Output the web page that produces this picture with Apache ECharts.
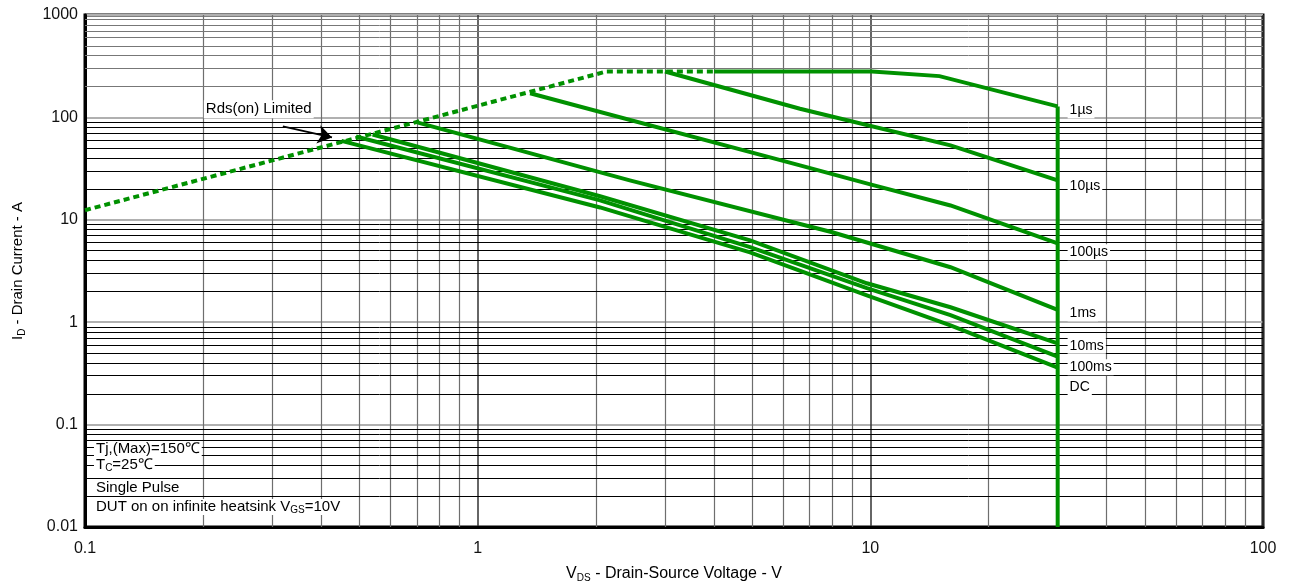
<!DOCTYPE html>
<html>
<head>
<meta charset="utf-8">
<script src="https://cdn.jsdelivr.net/npm/echarts@6/dist/echarts.min.js"></script>
<style>
  html, body { margin: 0; padding: 0; background: #fff; }
  #main { width: 1290px; height: 587px; }
</style>
</head>
<body>
<div id="main"></div>
<script>
// safe operating area, VDS (V) vs ID (A)
const rdsV = [0.1, 2.13, 4.0]
const rdsI = [12.4, 281, 281]
const us1V = [4.0, 10.1, 15.0, 30]
const us1I = [281, 281, 253, 128]
const us10V = [3.0, 6.62, 16, 30]
const us10I = [281, 121.6, 53.3, 24.3]
const us100V = [1.36, 6.62, 10, 16, 30]
const us100I = [172, 34.0, 22.2, 13.8, 5.9]
const ms1V = [0.705, 2.44, 8.0, 16, 30]
const ms1I = [89, 24.3, 7.55, 3.44, 1.32]
const ms10V = [0.54, 2.05, 4.94, 9.8, 16, 30]
const ms10I = [68, 17, 6.3, 2.4, 1.4, 0.62]
const ms100V = [0.49, 2.05, 4.94, 9.8, 16, 30]
const ms100I = [65, 15.5, 5.4, 2.15, 1.17, 0.46]
const dcV = [0.45, 2.05, 4.94, 9.8, 16, 30]
const dcI = [59, 13.2, 4.8, 1.83, 0.93, 0.36]
const bvV = [30, 30]
const bvI = [128, 0.01]

// curve labels at the right
const curveNames = ['1µs', '10µs', '100µs', '1ms', '10ms', '100ms', 'DC']
const curveNameV = 31.8
const curveNameI = [117, 21.2, 4.82, 1.22, 0.59, 0.364, 0.232]

// notes
const noteV = 0.1054
const noteText = ['Tj,(Max)=150℃', 'T{sub|C}=25℃', 'Single Pulse', 'DUT on on infinite heatsink V{sub|GS}=10V']
const noteI = [0.0577, 0.0402, 0.024, 0.0157]
const rdsLabel = { v: 0.277, i: 120, text: 'Rds(on) Limited' }
const arrowFrom = [0.319, 81.7]
const arrowTo = [0.4256, 63.8]

// ticks / minor grid
const xDecades = [0.1, 1, 10]
const yDecades = [0.01, 0.1, 1, 10, 100]
const minorSteps = [2, 3, 4, 5, 6, 7, 8, 9]

const FONT = 'Liberation Sans, Arial, sans-serif'
const GREEN = '#009100'
const rich = { sub: { fontSize: 10, verticalAlign: 'bottom', lineHeight: 10, fontFamily: FONT, color: '#000' } }

const pairs = (xs, ys) => xs.map((x, i) => [x, ys[i]])
const tickFmt = v => String(+(+v).toPrecision(6))

let minorLines = []
xDecades.forEach(d => minorSteps.forEach(s => {
  minorLines.push({ xAxis: +(d * s).toPrecision(3), lineStyle: { color: '#6e6e6e', width: 1.2, type: 'solid' } })
}))
yDecades.forEach(d => minorSteps.forEach(s => {
  minorLines.push({ yAxis: +(d * s).toPrecision(3), lineStyle: { color: d === 100 ? '#777' : '#000', width: 1, type: 'solid' } })
}))

function curve(name, xs, ys, dashed) {
  return {
    name: name,
    type: 'line',
    data: pairs(xs, ys),
    showSymbol: false,
    symbol: 'none',
    z: 5,
    lineStyle: { color: GREEN, width: 4, type: dashed ? [6, 4] : 'solid', cap: 'butt', join: 'miter' },
    silent: true
  }
}

function noteLabel(text, size) {
  return {
    show: true, position: 'right', distance: 0,
    formatter: text, fontSize: size, lineHeight: 16, color: '#000', fontFamily: FONT,
    backgroundColor: '#fff', padding: [0, 2], opacity: 1, rich: rich
  }
}

let notesData = []
curveNames.forEach((n, i) => {
  notesData.push({ value: [curveNameV, curveNameI[i]], label: noteLabel(n, 14) })
})
noteText.forEach((t, i) => {
  notesData.push({ value: [noteV, noteI[i]], label: noteLabel(t, 15) })
})
notesData.push({
  value: [rdsLabel.v, rdsLabel.i],
  label: Object.assign(noteLabel(rdsLabel.text, 15), { position: 'inside', padding: [1, 2] })
})

const myChart = echarts.init(document.getElementById('main'))
myChart.setOption({
  animation: false,
  backgroundColor: '#fff',
  grid: {
    left: 85, right: 27, top: 15, bottom: 60,
    show: true, borderColor: '#000', borderWidth: 3, backgroundColor: '#fff',
    outerBoundsMode: 'none'
  },
  xAxis: {
    type: 'log', logBase: 10, min: 0.1, max: 100,
    name: 'V{sub|DS} - Drain-Source Voltage - V',
    nameLocation: 'middle', nameGap: 38,
    nameTextStyle: { fontSize: 16, color: '#000', fontFamily: FONT, lineHeight: 18, rich: rich },
    axisLine: { show: true, onZero: false, lineStyle: { color: '#000', width: 3 } },
    axisTick: { show: false },
    axisLabel: { fontSize: 16, color: '#111', fontFamily: FONT, margin: 14, formatter: tickFmt },
    splitLine: { show: true, lineStyle: { color: '#333', width: 1.5 } }
  },
  yAxis: {
    type: 'log', logBase: 10, min: 0.01, max: 1000,
    name: 'I{sub|D} - Drain Current - A',
    nameLocation: 'middle', nameGap: 58,
    nameTextStyle: { fontSize: 15, color: '#000', fontFamily: FONT, lineHeight: 18, rich: rich },
    axisLine: { show: true, onZero: false, lineStyle: { color: '#000', width: 3 } },
    axisTick: { show: false },
    axisLabel: { fontSize: 16, color: '#111', fontFamily: FONT, margin: 7, formatter: tickFmt },
    splitLine: { show: true, lineStyle: { color: '#b0b0b0', width: 2 } }
  },
  series: [
    {
      name: 'grid',
      type: 'line',
      data: [[0.1, 0.01]],
      showSymbol: false,
      lineStyle: { opacity: 0 },
      z: 1,
      silent: true,
      markLine: {
        z: 1,
        silent: true, symbol: 'none', animation: false,
        label: { show: false },
        data: minorLines
      }
    },
    {
      name: 'arrow',
      type: 'line',
      data: [],
      z: 6,
      markLine: {
        z: 6,
        silent: true, animation: false,
        symbol: ['none', 'arrow'], symbolSize: 14,
        label: { show: false },
        lineStyle: { color: '#000', width: 2, type: 'solid' },
        data: [[{ coord: arrowFrom }, { coord: arrowTo }]]
      }
    },
    curve('Rds(on)', rdsV, rdsI, true),
    curve('1µs', us1V, us1I),
    curve('10µs', us10V, us10I),
    curve('100µs', us100V, us100I),
    curve('1ms', ms1V, ms1I),
    curve('10ms', ms10V, ms10I),
    curve('100ms', ms100V, ms100I),
    curve('DC', dcV, dcI),
    curve('BVDSS', bvV, bvI),
    {
      name: 'notes',
      type: 'scatter',
      symbolSize: 0,
      itemStyle: { opacity: 1 },
      z: 4,
      silent: true,
      data: notesData
    }
  ]
})
</script>
</body>
</html>
